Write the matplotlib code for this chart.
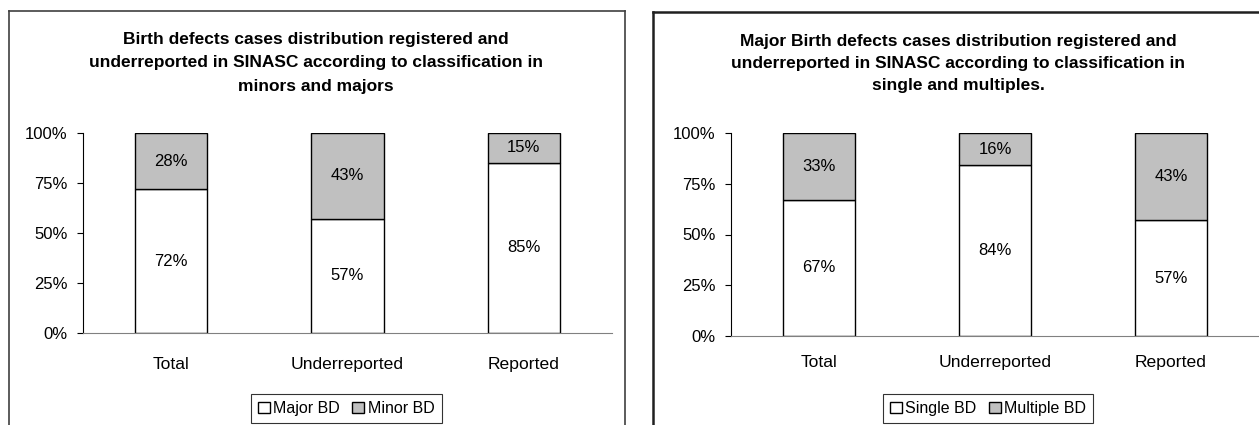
import matplotlib
matplotlib.use("Agg")
import matplotlib.pyplot as plt
from matplotlib.lines import Line2D

plt.rcParams['font.family'] = ['Liberation Sans', 'DejaVu Sans']

categories = ["Total", "Underreported", "Reported"]

# left chart: major / minor
major_bd = [72, 57, 85]
minor_bd = [28, 43, 15]

# right chart: single / multiple
single_bd = [67, 84, 57]
multiple_bd = [33, 16, 43]

titles = [
    "Birth defects cases distribution registered and\n"
    "underreported in SINASC according to classification in\n"
    "minors and majors",
    "Major Birth defects cases distribution registered and\n"
    "underreported in SINASC according to classification in\n"
    "single and multiples.",
]
legend_labels = [["Major BD", "Minor BD"], ["Single BD", "Multiple BD"]]

W, H = 1259, 425
fig = plt.figure(figsize=(W / 100, H / 100), dpi=100)


def px_axes(x0, x1, ytop, ybot):
    return fig.add_axes([x0 / W, (H - ybot) / H, (x1 - x0) / W, (ybot - ytop) / H])


def frame(x0, x1, ytop, color, lw):
    fig.add_artist(Line2D([x0 / W, x0 / W], [0, (H - ytop) / H], color=color, lw=lw,
                          transform=fig.transFigure))
    fig.add_artist(Line2D([x0 / W, x1 / W], [(H - ytop) / H, (H - ytop) / H], color=color,
                          lw=lw, transform=fig.transFigure))
    if x1 < W:
        fig.add_artist(Line2D([x1 / W, x1 / W], [0, (H - ytop) / H], color=color, lw=lw,
                              transform=fig.transFigure))


frame(9, 625, 11, "#404040", 1.2)
frame(653, 1262, 12, "#202020", 1.8)

panels = [
    (px_axes(83, 612, 133, 333), major_bd, minor_bd, 316, 346, 32, 17, 1.7),
    (px_axes(731, 1259, 133, 336), single_bd, multiple_bd, 958, 988, 34, 14, 1.6),
]

for i, (ax, low, high, title_x, leg_x, title_y, xpad, ls) in enumerate(panels):
    x = range(len(categories))
    b1 = ax.bar(x, low, width=0.41, color="white", edgecolor="black", linewidth=1.0)
    b2 = ax.bar(x, high, width=0.41, bottom=low, color="#c0c0c0", edgecolor="black",
                linewidth=1.0)
    for j in x:
        ax.text(j, low[j] / 2, f"{low[j]}%", ha="center", va="center", fontsize=12)
        ax.text(j, low[j] + high[j] / 2, f"{high[j]}%", ha="center", va="center", fontsize=12)

    ax.set_xlim(-0.5, 2.5)
    ax.set_ylim(0, 100)
    ax.set_yticks([0, 25, 50, 75, 100])
    ax.set_yticklabels(["0%", "25%", "50%", "75%", "100%"], fontsize=12)
    ax.set_xticks(list(x))
    ax.set_xticklabels(categories, fontsize=12.6)
    ax.tick_params(axis="x", length=0, pad=xpad)
    ax.tick_params(axis="y", length=4, direction="out", pad=7)
    for s in ["top", "right"]:
        ax.spines[s].set_visible(False)
    ax.spines["bottom"].set_color("#808080")
    ax.spines["left"].set_color("black")
    ax.spines["left"].set_linewidth(0.8)
    ax.patch.set_visible(False)

    fig.text(title_x / W, (H - title_y) / H, titles[i], ha="center", va="top", fontsize=12.5,
             fontweight="bold", linespacing=ls)

    leg = fig.legend([b1, b2], legend_labels[i], loc="upper center",
                     bbox_to_anchor=(leg_x / W, (H - 394) / H), ncol=2, fontsize=11.5,
                     frameon=True, fancybox=False, edgecolor="black",
                     handlelength=0.75, handleheight=0.75, handletextpad=0.2,
                     columnspacing=0.8, borderpad=0.45, borderaxespad=0)
    leg.get_frame().set_linewidth(0.8)

fig.savefig("out.png", dpi=100, facecolor="white")
